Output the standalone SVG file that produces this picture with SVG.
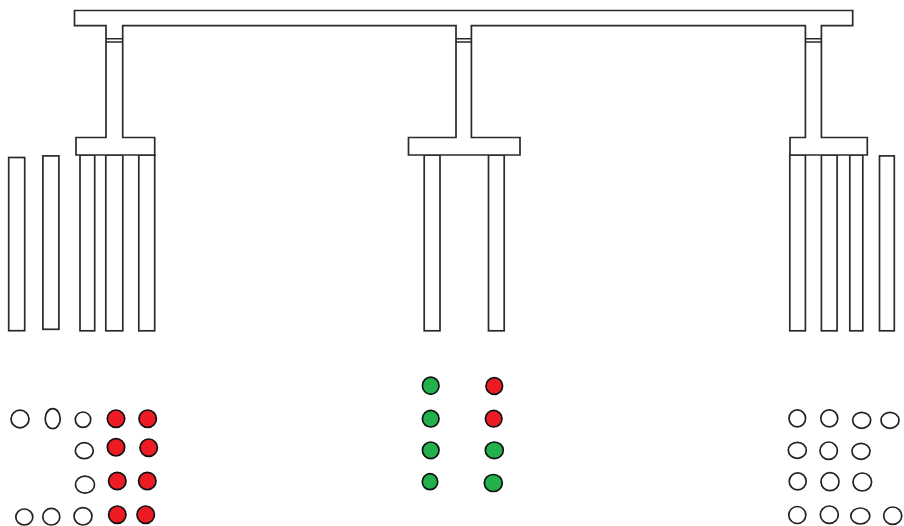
<svg xmlns="http://www.w3.org/2000/svg" width="904" height="526" viewBox="0 0 904 526">
<style>
.s{fill:#fff;stroke:#2a2a2a;stroke-width:1.7}
.l{fill:none;stroke:#2a2a2a;stroke-width:1.4}
.o{fill:#fff;stroke:#222;stroke-width:1.7}
.r{fill:#ed1c24;stroke:#111;stroke-width:1.7}
.g{fill:#22b14c;stroke:#111;stroke-width:1.7}
</style>
<rect width="904" height="526" fill="#fff"/>
<g id="piles-left">
<rect class="s" x="8.7" y="157.5" width="16" height="173.2"/>
<rect class="s" x="42.9" y="155.9" width="16" height="173.4"/>
<rect class="s" x="80" y="155" width="14.7" height="175.8"/>
<rect class="s" x="105.8" y="155" width="17" height="175.8"/>
<rect class="s" x="138.8" y="155" width="15.9" height="175.8"/>
</g>
<g id="piles-center">
<rect class="s" x="424.2" y="155" width="15.8" height="175.8"/>
<rect class="s" x="488.5" y="155" width="15.7" height="175.8"/>
</g>
<g id="piles-right">
<rect class="s" x="789.8" y="155" width="15.6" height="175.8"/>
<rect class="s" x="821.4" y="155" width="15.7" height="175.8"/>
<rect class="s" x="849.8" y="155" width="13" height="175.8"/>
<rect class="s" x="879.5" y="155.9" width="14.8" height="174.9"/>
</g>
<g id="frame">
<path class="s" d="M74.5 10.5H852.7V25.7H821.4V137.5H867.3V155H790V137.5H805.4V25.7H471.4V137.5H520V155H408.5V137.5H456V25.7H122.7V137.5H154.7V155H76V137.5H106V25.7H74.5Z"/>
<path class="l" d="M106 38.7H122.7M106 42H122.7M456 38.7H471.4M456 42H471.4M805.4 38.7H821.4M805.4 42H821.4"/>
</g>
<g id="circles-left">
<ellipse class="o" cx="20" cy="419" rx="9" ry="8.8"/>
<ellipse class="o" cx="52.7" cy="418.7" rx="7.5" ry="10"/>
<ellipse class="o" cx="83" cy="419.7" rx="7.7" ry="7.7"/>
<ellipse class="r" cx="116" cy="418.7" rx="8.7" ry="8.7"/>
<ellipse class="r" cx="147.7" cy="418.7" rx="8.7" ry="8.7"/>
<ellipse class="o" cx="84.3" cy="450.7" rx="9" ry="8"/>
<ellipse class="r" cx="116" cy="447.3" rx="8.7" ry="8.7"/>
<ellipse class="r" cx="148.7" cy="447.7" rx="8.7" ry="8.7"/>
<ellipse class="o" cx="85" cy="484.7" rx="9.5" ry="8.5"/>
<ellipse class="r" cx="117.3" cy="481" rx="8.7" ry="8.7"/>
<ellipse class="r" cx="147.3" cy="481" rx="8.7" ry="8.7"/>
<ellipse class="o" cx="24.3" cy="517" rx="8.5" ry="8"/>
<ellipse class="o" cx="51.3" cy="516.7" rx="8.5" ry="8.3"/>
<ellipse class="o" cx="83" cy="516.3" rx="9" ry="8.7"/>
<ellipse class="r" cx="117.3" cy="514.7" rx="8.7" ry="8.7"/>
<ellipse class="r" cx="145.7" cy="514.7" rx="8.7" ry="8.7"/>
</g>
<g id="circles-center">
<ellipse class="g" cx="430.7" cy="385.7" rx="8.3" ry="8.6"/>
<ellipse class="r" cx="494.3" cy="386" rx="8.3" ry="8.3"/>
<ellipse class="g" cx="430.7" cy="418.7" rx="8.3" ry="8.3"/>
<ellipse class="r" cx="493.7" cy="418.7" rx="8.3" ry="8.3"/>
<ellipse class="g" cx="430.7" cy="450.3" rx="8.3" ry="8.3"/>
<ellipse class="g" cx="494.3" cy="450.3" rx="9" ry="8.3"/>
<ellipse class="g" cx="430" cy="481.7" rx="7.7" ry="8"/>
<ellipse class="g" cx="493.3" cy="483" rx="9" ry="8.5"/>
</g>
<g id="circles-right">
<ellipse class="o" cx="797.3" cy="418.3" rx="8.3" ry="8.5"/>
<ellipse class="o" cx="829.3" cy="418.3" rx="8.5" ry="8.5"/>
<ellipse class="o" cx="861.7" cy="420.3" rx="9" ry="8"/>
<ellipse class="o" cx="890" cy="420.3" rx="9" ry="8"/>
<ellipse class="o" cx="797.3" cy="450.3" rx="9" ry="8"/>
<ellipse class="o" cx="828.7" cy="450.7" rx="8.7" ry="8.7"/>
<ellipse class="o" cx="861" cy="451.3" rx="9" ry="8"/>
<ellipse class="o" cx="797.7" cy="481.3" rx="8.5" ry="8.5"/>
<ellipse class="o" cx="830" cy="481.7" rx="9" ry="9"/>
<ellipse class="o" cx="862.3" cy="482" rx="9.3" ry="9"/>
<ellipse class="o" cx="797.3" cy="515" rx="8.5" ry="8.5"/>
<ellipse class="o" cx="829.3" cy="514.7" rx="9" ry="8.7"/>
<ellipse class="o" cx="860.3" cy="516" rx="9.5" ry="8"/>
<ellipse class="o" cx="892.7" cy="515.7" rx="9" ry="8.7"/>
</g>
</svg>
